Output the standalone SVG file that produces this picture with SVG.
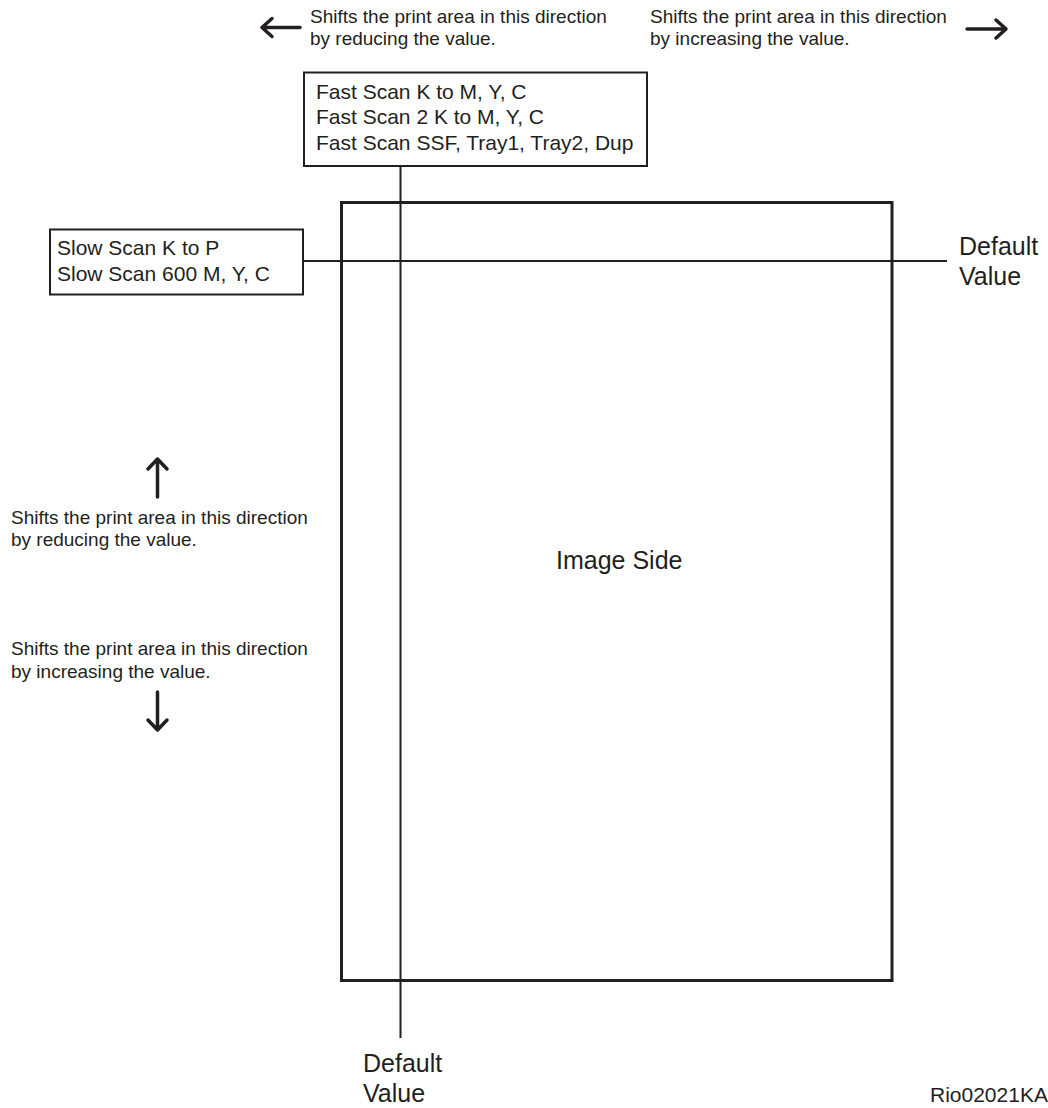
<svg xmlns="http://www.w3.org/2000/svg" width="1048" height="1108" viewBox="0 0 1048 1108">
<style>
text{font-family:"Liberation Sans",Arial,sans-serif;fill:#231f20}
.a{font-size:19px}
.b{font-size:21px}
.c{font-size:25px}
.d{font-size:21px}
.box{fill:#fff;stroke:#231f20;stroke-width:2}
.ln{fill:none;stroke:#231f20;stroke-width:2}
.arr{fill:none;stroke:#231f20;stroke-width:3.5;stroke-linecap:round;stroke-linejoin:round}
</style>
<rect width="1048" height="1108" fill="#fff"/>
<g id="connectors">
<line class="ln" x1="400.5" y1="166" x2="400.5" y2="1038"/>
<line class="ln" x1="303" y1="261" x2="947" y2="261"/>
</g>
<g id="image-side">
<rect x="341.5" y="202.5" width="550.5" height="778" fill="none" stroke="#231f20" stroke-width="3"/>
<text class="c" x="556" y="569">Image Side</text>
</g>
<g id="fast-scan">
<rect class="box" x="304" y="72.5" width="343" height="93.5"/>
<text class="b" x="316" y="98.5">Fast Scan K to M, Y, C</text>
<text class="b" x="316" y="124">Fast Scan 2 K to M, Y, C</text>
<text class="b" x="316" y="149.5">Fast Scan SSF, Tray1, Tray2, Dup</text>
</g>
<g id="slow-scan">
<rect class="box" x="50" y="229.5" width="253" height="65"/>
<text class="b" x="57" y="255">Slow Scan K to P</text>
<text class="b" x="57" y="281">Slow Scan 600 M, Y, C</text>
</g>
<g id="default-right">
<text class="c" x="959" y="255">Default</text>
<text class="c" x="959" y="285">Value</text>
</g>
<g id="default-bottom">
<text class="c" x="363" y="1072">Default</text>
<text class="c" x="363" y="1102">Value</text>
</g>
<g id="shift-left">
<path class="arr" d="M300 27.5H262M272 18.5L262 27.5L272 36.5"/>
<text class="a" x="310" y="23">Shifts the print area in this direction</text>
<text class="a" x="310" y="45">by reducing the value.</text>
</g>
<g id="shift-right">
<path class="arr" d="M967 29H1006M996 20L1006 29L996 38"/>
<text class="a" x="650" y="23">Shifts the print area in this direction</text>
<text class="a" x="650" y="45">by increasing the value.</text>
</g>
<g id="shift-up">
<path class="arr" d="M157.5 497V459M148 469L157.5 459L167 469"/>
<text class="a" x="11" y="523.5">Shifts the print area in this direction</text>
<text class="a" x="11" y="546">by reducing the value.</text>
</g>
<g id="shift-down">
<path class="arr" d="M157.5 692V730M148 720L157.5 730L167 720"/>
<text class="a" x="11" y="654.5">Shifts the print area in this direction</text>
<text class="a" x="11" y="677.5">by increasing the value.</text>
</g>
<g id="ref">
<text class="d" x="930" y="1102">Rio02021KA</text>
</g>
</svg>
